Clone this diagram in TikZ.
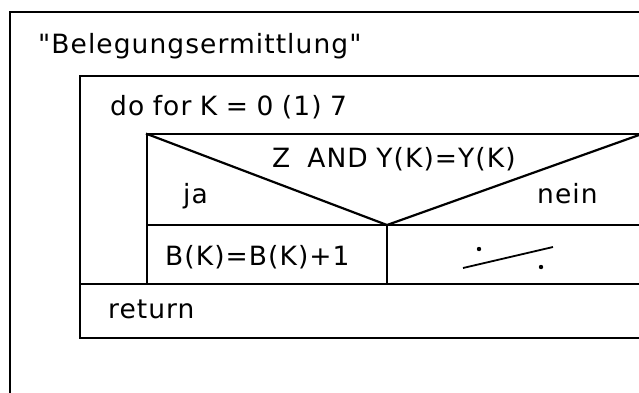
\documentclass[tikz,border=0pt]{standalone}
\usepackage{fontspec}
\newfontfamily\dv[LetterSpace=4,WordSpace=0.9]{DejaVu Sans}
\begin{document}
\begin{tikzpicture}[x=1pt,y=-1pt,
  ln/.style={line width=2.2pt,line cap=rect},
  txt/.style={anchor=base west,inner sep=0pt,font=\dv\fontsize{26.5}{30}\selectfont}]
\useasboundingbox (0,0) rectangle (639,392);
% outer frame
\draw[ln] (10,392) -- (10,12) -- (639,12);
% loop box
\draw[ln] (639,76) -- (80,76) -- (80,338) -- (639,338);
\draw[ln] (80,284) -- (639,284);
% loop body
\draw[ln] (639,134) -- (147,134) -- (147,284);
\draw[ln] (147,225) -- (639,225);
\coordinate (v) at (387,225);
\draw[ln] (147,134) -- (v) -- (639,135);
\draw[ln] (v) -- (387,284);
% null statement
\draw[line width=1.8pt] (463,268) -- (553,247);
\fill (479,249) circle (2.2pt);
\fill (541,267) circle (2.2pt);
% texts
\node[txt] (title) at (38,53) {"Belegungsermittlung"};
\node[txt] (loop) at (110,115) {do for K = 0 (1) 7};
\node[txt] (cond) at (272,167) {Z\ \ AND Y(K)=Y(K)};
\node[txt] (ja) at (183,203) {ja};
\node[txt] (nein) at (537,203) {nein};
\node[txt] (assign) at (165,265) {B(K)=B(K)+1};
\node[txt] (ret) at (108,318) {return};
\end{tikzpicture}
\end{document}
